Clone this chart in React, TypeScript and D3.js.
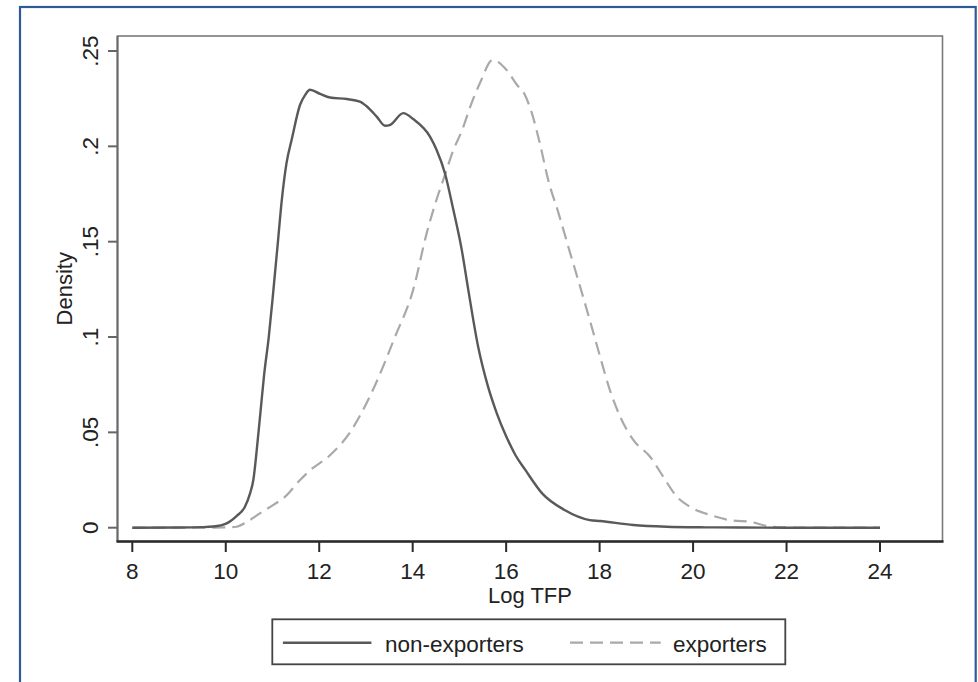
import React from "react";
import * as d3 from "d3";

const xTicks = [8, 10, 12, 14, 16, 18, 20, 22, 24];
const yTicks = [0, 0.05, 0.1, 0.15, 0.2, 0.25];
const yTickLabels = ["0", ".05", ".1", ".15", ".2", ".25"];

const nonExpX = [8, 9, 9.5, 9.73, 10.02, 10.23, 10.41, 10.52, 10.59, 10.66, 10.74, 10.82, 10.92, 11.02, 11.12, 11.2, 11.3, 11.41, 11.59, 11.7, 11.8, 12.02, 12.23, 12.59, 12.87, 13.02, 13.23, 13.41, 13.52, 13.8, 14.01, 14.37, 14.51, 14.69, 14.87, 15.05, 15.19, 15.4, 15.6, 15.8, 16.0, 16.2, 16.41, 16.77, 17.25, 17.79, 18.01, 18.72, 19.43, 20.15, 21, 22, 23, 24];
const nonExpY = [0, 0.0001, 0.0003, 0.0006, 0.0023, 0.0061, 0.011, 0.018, 0.025, 0.04, 0.06, 0.08, 0.1, 0.1247, 0.151, 0.172, 0.1912, 0.2034, 0.2218, 0.227, 0.2297, 0.2275, 0.2256, 0.2248, 0.2235, 0.2209, 0.2156, 0.2108, 0.2113, 0.2174, 0.2143, 0.2051, 0.1982, 0.1859, 0.1667, 0.1457, 0.1247, 0.095, 0.075, 0.06, 0.048, 0.038, 0.0303, 0.018, 0.0093, 0.004, 0.0035, 0.0014, 0.0005, 0.0002, 0.0001, 0, 0, 0];

const expX = [8, 9, 9.5, 10.02, 10.23, 10.45, 10.73, 11.02, 11.26, 11.59, 11.8, 12.23, 12.66, 12.9, 13.2, 13.62, 14.01, 14.3, 14.51, 14.69, 14.87, 15.05, 15.26, 15.44, 15.71, 16.01, 16.23, 16.4, 16.55, 16.72, 16.9, 17.12, 17.37, 17.54, 17.8, 18.01, 18.22, 18.44, 18.72, 19.08, 19.36, 19.65, 19.93, 20.36, 20.86, 21.22, 21.58, 21.86, 22.5, 23, 24];
const expY = [0, 0, 0, 0.0002, 0.0005, 0.003, 0.0075, 0.012, 0.016, 0.025, 0.03, 0.038, 0.05, 0.06, 0.075, 0.1, 0.1247, 0.1545, 0.172, 0.185, 0.198, 0.208, 0.2227, 0.2332, 0.2453, 0.24, 0.2323, 0.227, 0.2174, 0.2017, 0.1824, 0.165, 0.144, 0.13, 0.108, 0.0897, 0.0722, 0.0582, 0.046, 0.0372, 0.0268, 0.0163, 0.011, 0.0067, 0.0037, 0.0031, 0.0009, 0.0002, 0, 0, 0];

const seriesNames = ["non-exporters", "exporters"];

export default function App() {
  const W = 978, H = 682;
  const frame = { left: 117.5, right: 942.5, top: 36, bottom: 541.5 };
  const x = d3.scaleLinear().domain([8, 24]).range([132.3, 880]);
  const y = d3.scaleLinear().domain([0, 0.25]).range([527.7, 51]);
  const line = d3
    .line<[number, number]>()
    .x((d) => x(d[0]))
    .y((d) => y(d[1]))
    .curve(d3.curveMonotoneX);
  const nonExp = nonExpX.map((v, i) => [v, nonExpY[i]] as [number, number]);
  const exp = expX.map((v, i) => [v, expY[i]] as [number, number]);
  const font = "'Liberation Sans', Arial, sans-serif";
  const fs = 22.5;
  const textColor = "#222";

  return (
    <svg
      width={W}
      height={H}
      style={{ position: "absolute", left: 0, top: 0, background: "#fff" }}
      fontFamily={font}
    >
      <rect x={0} y={0} width={W} height={H} fill="#fff" />
      {/* outer blue border */}
      <rect x={20} y={7} width={955.7} height={700} fill="none" stroke="#2f5a98" strokeWidth={2.2} />
      {/* plot frame */}
      <rect
        x={frame.left}
        y={frame.top}
        width={frame.right - frame.left}
        height={frame.bottom - frame.top}
        fill="none"
        stroke="#7a7a7a"
        strokeWidth={1.6}
      />
      <line x1={frame.left} x2={frame.left} y1={frame.top} y2={frame.bottom} stroke="#6a6a6a" strokeWidth={2} />
      <line x1={frame.left - 1} x2={frame.right + 1} y1={frame.bottom} y2={frame.bottom} stroke="#2a2a2a" strokeWidth={2.4} />
      {/* y ticks */}
      {yTicks.map((t, i) => (
        <g key={"y" + i}>
          <line x1={108} x2={frame.left} y1={y(t)} y2={y(t)} stroke="#666" strokeWidth={2} />
          <text
            transform={`translate(98,${y(t)}) rotate(-90)`}
            textAnchor="middle"
            fontSize={fs}
            fill={textColor}
          >
            {yTickLabels[i]}
          </text>
        </g>
      ))}
      {/* x ticks */}
      {xTicks.map((t) => (
        <g key={"x" + t}>
          <line x1={x(t)} x2={x(t)} y1={frame.bottom} y2={552} stroke="#2a2a2a" strokeWidth={2} />
          <text x={x(t)} y={579} textAnchor="middle" fontSize={fs} fill={textColor}>
            {t}
          </text>
        </g>
      ))}
      <text x={(frame.left + frame.right) / 2} y={603} textAnchor="middle" fontSize={22} fill={textColor}>
        Log TFP
      </text>
      <text
        transform={`translate(72,${(frame.top + frame.bottom) / 2}) rotate(-90)`}
        textAnchor="middle"
        fontSize={22}
        fill={textColor}
      >
        Density
      </text>
      {/* series */}
      <path d={line(exp) || ""} fill="none" stroke="#a9a9a9" strokeWidth={2.2} strokeDasharray="13,7" />
      <path d={line(nonExp) || ""} fill="none" stroke="#595959" strokeWidth={2.4} />
      {/* legend */}
      <rect x={272.3} y={619.3} width={513} height={45} fill="#fff" stroke="#444" strokeWidth={1.8} />
      <line x1={282.9} x2={371.4} y1={642.7} y2={642.7} stroke="#595959" strokeWidth={2.4} />
      <text x={385} y={652} fontSize={fs} fill={textColor}>
        {seriesNames[0]}
      </text>
      <line x1={570} x2={660.7} y1={642.7} y2={642.7} stroke="#a9a9a9" strokeWidth={2.2} strokeDasharray="13,7" />
      <text x={673} y={652} fontSize={fs} fill={textColor}>
        {seriesNames[1]}
      </text>
    </svg>
  );
}
